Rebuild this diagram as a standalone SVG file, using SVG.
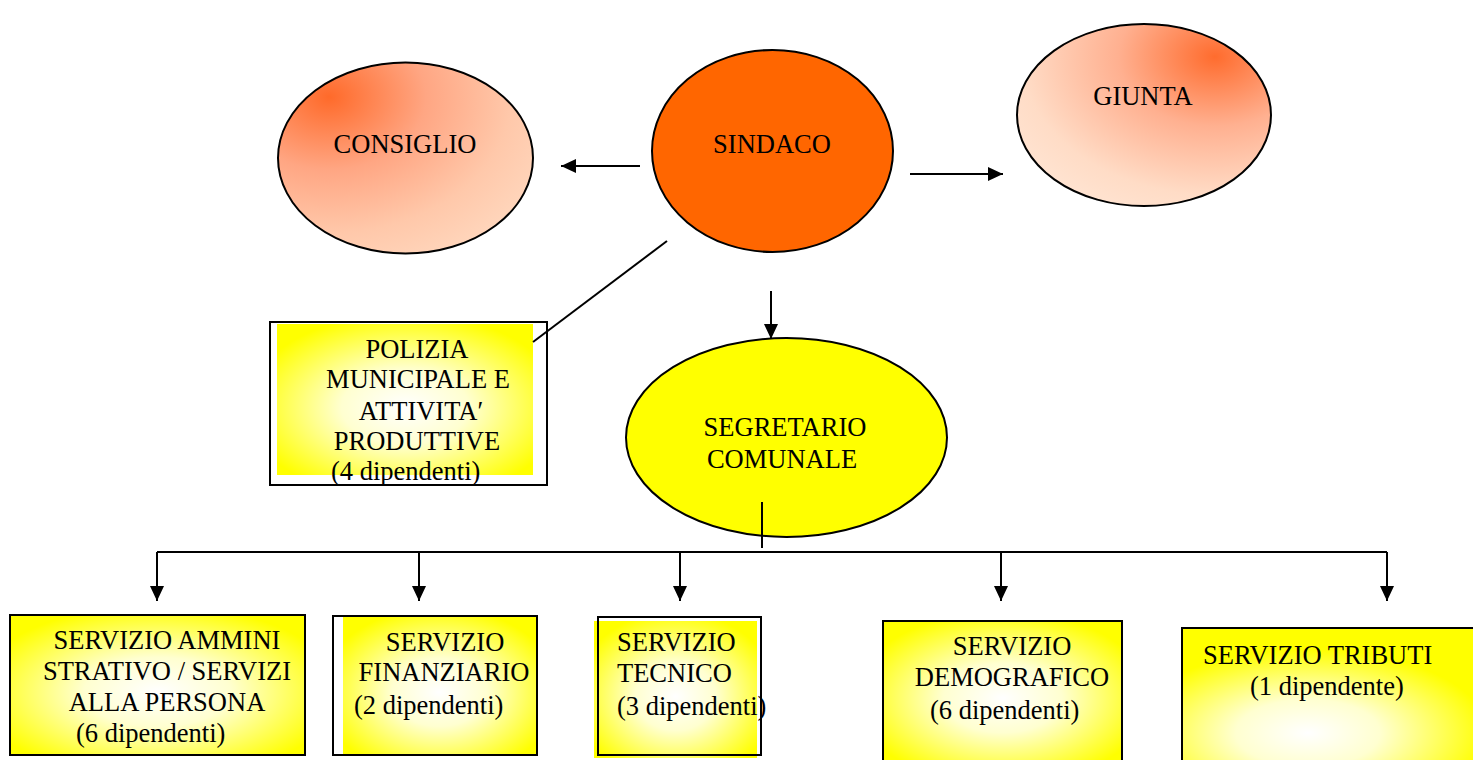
<svg xmlns="http://www.w3.org/2000/svg" width="1473" height="760" viewBox="0 0 1473 760">
<defs>
<style>
text{font-family:"Liberation Serif","Times New Roman",serif;font-size:26.5px;fill:#000}
.c{text-anchor:middle}
.ln{stroke:#000;stroke-width:2;fill:none}
.bx{stroke:#000;stroke-width:2}
</style>
<radialGradient id="gCons" cx="0.2" cy="0.18" r="0.95" fx="0.2" fy="0.18">
<stop offset="0" stop-color="#FF6A2A"/>
<stop offset="0.4" stop-color="#FFA683"/>
<stop offset="0.75" stop-color="#FFC8AA"/>
<stop offset="1" stop-color="#FFD6BC"/>
</radialGradient>
<radialGradient id="gGiun" cx="0.78" cy="0.18" r="0.95" fx="0.78" fy="0.18">
<stop offset="0" stop-color="#FF6C2E"/>
<stop offset="0.4" stop-color="#FFB090"/>
<stop offset="0.8" stop-color="#FFDCC6"/>
<stop offset="1" stop-color="#FFE4D2"/>
</radialGradient>
<radialGradient id="gY" cx="0.5" cy="0.55" r="0.62">
<stop offset="0" stop-color="#FFFFFF"/>
<stop offset="0.4" stop-color="#FFFFD0"/>
<stop offset="1" stop-color="#FFFF00"/>
</radialGradient>
<radialGradient id="gY5" cx="0.42" cy="0.75" r="0.6">
<stop offset="0" stop-color="#FFFFFF"/>
<stop offset="0.4" stop-color="#FFFFD0"/>
<stop offset="1" stop-color="#FFFF00"/>
</radialGradient>
<marker id="ah" markerWidth="16" markerHeight="14" refX="15" refY="7" orient="auto" markerUnits="userSpaceOnUse">
<path d="M0,0 L15,7 L0,14 Z" fill="#000"/>
</marker>
</defs>
<rect width="1473" height="760" fill="#fff"/>

<g id="consiglio">
<ellipse cx="405.5" cy="158" rx="127.5" ry="95.5" fill="url(#gCons)" class="bx"/>
<text class="c" x="405" y="153">CONSIGLIO</text>
</g>

<g id="sindaco">
<ellipse cx="772.5" cy="151" rx="120.5" ry="101" fill="#FF6600" class="bx"/>
<text class="c" x="772" y="153">SINDACO</text>
</g>

<g id="giunta">
<ellipse cx="1144" cy="115" rx="127" ry="91" fill="url(#gGiun)" class="bx"/>
<text class="c" x="1143" y="105">GIUNTA</text>
</g>

<g id="polizia">
<rect x="270" y="322" width="277" height="163" fill="#fff" class="bx"/>
<rect x="277" y="324" width="256" height="151" fill="url(#gY)"/>
<text class="c" x="417" y="358">POLIZIA</text>
<text class="c" x="418" y="388">MUNICIPALE E</text>
<text class="c" x="421" y="420">ATTIVITA′</text>
<text class="c" x="417" y="450">PRODUTTIVE</text>
<text x="331" y="480">(4 dipendenti)</text>
</g>

<g id="segretario">
<ellipse cx="786.5" cy="437.5" rx="160.5" ry="99.5" fill="#FFFF00" class="bx"/>
<text class="c" x="785" y="436">SEGRETARIO</text>
<text class="c" x="782" y="468">COMUNALE</text>
</g>

<g id="serv-amministrativo">
<rect x="10" y="615" width="295" height="140" fill="url(#gY)" class="bx"/>
<text class="c" x="167" y="649">SERVIZIO AMMINI</text>
<text class="c" x="167" y="680">STRATIVO / SERVIZI</text>
<text class="c" x="167" y="711">ALLA PERSONA</text>
<text x="76" y="742">(6 dipendenti)</text>
</g>

<g id="serv-finanziario">
<rect x="333" y="616" width="204" height="139" fill="#fff" class="bx"/>
<rect x="343" y="617" width="193" height="137" fill="url(#gY)"/>
<text class="c" x="445" y="651">SERVIZIO</text>
<text class="c" x="444" y="681">FINANZIARIO</text>
<text x="354" y="714">(2 dipendenti)</text>
</g>

<g id="serv-tecnico">
<rect x="594" y="621" width="163" height="137" fill="url(#gY)"/>
<rect x="598" y="617" width="163" height="138" fill="none" class="bx"/>
<text x="617" y="651">SERVIZIO</text>
<text x="617" y="682">TECNICO</text>
<text x="617" y="715">(3 dipendenti)</text>
</g>

<g id="serv-demografico">
<rect x="883" y="621" width="239" height="140" fill="url(#gY)" class="bx"/>
<text class="c" x="1012" y="655">SERVIZIO</text>
<text class="c" x="1012" y="686">DEMOGRAFICO</text>
<text x="930" y="719">(6 dipendenti)</text>
</g>

<g id="serv-tributi">
<rect x="1182" y="628" width="300" height="140" fill="url(#gY5)" class="bx"/>
<text x="1203" y="664">SERVIZIO TRIBUTI</text>
<text x="1250" y="695">(1 dipendente)</text>
</g>

<g id="connectors">
<line class="ln" x1="640" y1="166" x2="561" y2="166" marker-end="url(#ah)"/>
<line class="ln" x1="910" y1="174" x2="1003" y2="174" marker-end="url(#ah)"/>
<line class="ln" x1="771" y1="291" x2="771" y2="339" marker-end="url(#ah)"/>
<line class="ln" x1="667" y1="241" x2="533" y2="342"/>
<line class="ln" x1="762" y1="502" x2="762" y2="548"/>
<line class="ln" x1="157" y1="552" x2="1387" y2="552"/>
<line class="ln" x1="157" y1="552" x2="157" y2="601" marker-end="url(#ah)"/>
<line class="ln" x1="419" y1="552" x2="419" y2="601" marker-end="url(#ah)"/>
<line class="ln" x1="680" y1="552" x2="680" y2="601" marker-end="url(#ah)"/>
<line class="ln" x1="1001" y1="552" x2="1001" y2="601" marker-end="url(#ah)"/>
<line class="ln" x1="1387" y1="552" x2="1387" y2="601" marker-end="url(#ah)"/>
</g>
</svg>
